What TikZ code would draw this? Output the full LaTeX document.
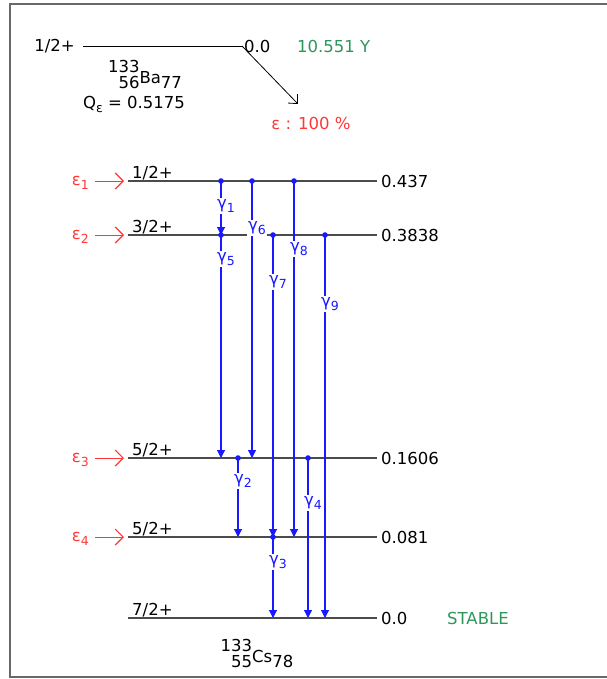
\documentclass[tikz,border=0pt]{standalone}
\usepackage{fontspec}
\setmainfont{DejaVu Sans}
\usetikzlibrary{arrows.meta,positioning}
\definecolor{gblue}{RGB}{25,25,255}
\definecolor{ered}{RGB}{255,55,55}
\definecolor{hgreen}{RGB}{45,150,90}
\definecolor{lvlgrey}{RGB}{75,75,75}
\definecolor{framegrey}{RGB}{105,105,105}
\newcommand{\nuclide}[4]{\begin{tabular}[b]{@{}r@{}}#1\\[-3pt]#2\end{tabular}\raisebox{5pt}{#3}#4}
\newcommand{\lowsub}[1]{\raisebox{-4pt}{\fontsize{12.5}{13}\selectfont#1}}

\begin{document}
\begin{tikzpicture}[
    x=1pt, y=-1pt,
    font=\fontsize{16.5}{19}\selectfont,
    level/.style={draw=lvlgrey, line width=1.6pt},
    gamma/.style={draw=gblue, line width=1.1pt, -{Triangle[length=8pt,width=8pt]}},
    gdot/.style={fill=gblue},
    glabel/.style={text=gblue, fill=white, inner sep=1pt},
    feed/.style={draw=ered, line width=1pt, -{Straight Barb[length=8pt,width=16pt,line width=1.2pt]}},
    flabel/.style={text=ered, anchor=east, inner sep=1pt},
    spin/.style={anchor=south west, inner sep=1pt},
    energy/.style={anchor=west, inner sep=1pt}
]
\useasboundingbox (0,0) rectangle (606,679);
\draw[framegrey, line width=1.8pt] (10,4) rectangle (640,677);

\node[anchor=east, inner sep=1pt] (parspin) at (76,46) {1/2+};
\coordinate (parw) at (83,46);
\coordinate (pare) at (242,46);
\draw[black, line width=0.9pt] (parw) -- (pare);
\node[energy] (parlvl) at (243,46) {0.0};
\node[energy, text=hgreen] (halflife) at (296,46) {10.551 Y};
\node[inner sep=0pt] (ba) at (145,77) {\nuclide{133}{56}{Ba}{77}};
\node[inner sep=1pt] (qec) at (134,104) {Q\lowsub{ε} = 0.5175};
\node[text=ered, inner sep=1pt] (branch) at (311,123) {ε : 100 \%};
\draw[black, line width=0.8pt, -{Straight Barb[length=7pt,width=13pt]}] (pare) -- (298,104);

\coordinate (l1w) at (128,181); \coordinate (l1e) at (377,181);
\coordinate (l2w) at (128,235); \coordinate (l2e) at (377,235);
\coordinate (l3w) at (128,458); \coordinate (l3e) at (377,458);
\coordinate (l4w) at (128,537); \coordinate (l4e) at (377,537);
\coordinate (l5w) at (128,618); \coordinate (l5e) at (377,618);
\draw[level] (l1w) -- (l1e);
\draw[level] (l2w) -- (l2e);
\draw[level] (l3w) -- (l3e);
\draw[level] (l4w) -- (l4e);
\draw[level] (l5w) -- (l5e);

\node[spin] (s1) at (l1w) [xshift=3pt] {1/2+};
\node[spin] (s2) at (l2w) [xshift=3pt] {3/2+};
\node[spin] (s3) at (l3w) [xshift=3pt] {5/2+};
\node[spin] (s4) at (l4w) [xshift=3pt] {5/2+};
\node[spin] (s5) at (l5w) [xshift=3pt] {7/2+};

\node[energy] (e1) at (l1e) [xshift=3pt] {0.437};
\node[energy] (e2) at (l2e) [xshift=3pt] {0.3838};
\node[energy] (e3) at (l3e) [xshift=3pt] {0.1606};
\node[energy] (e4) at (l4e) [xshift=3pt] {0.081};
\node[energy] (e5) at (l5e) [xshift=3pt] {0.0};
\node[energy, text=hgreen] (stable) at (446,618) {STABLE};
\node[inner sep=0pt] (cs) at (257,656) {\nuclide{133}{55}{Cs}{78}};

\coordinate (f1) at (95,181);
\coordinate (f2) at (95,235);
\coordinate (f3) at (95,458);
\coordinate (f4) at (95,537);
\draw[feed] (f1) -- ([xshift=-4pt]l1w);
\draw[feed] (f2) -- ([xshift=-4pt]l2w);
\draw[feed] (f3) -- ([xshift=-4pt]l3w);
\draw[feed] (f4) -- ([xshift=-4pt]l4w);
\node[flabel] (eps1) at (90,183) {ε\lowsub{1}};
\node[flabel] (eps2) at (90,237) {ε\lowsub{2}};
\node[flabel] (eps3) at (90,460) {ε\lowsub{3}};
\node[flabel] (eps4) at (90,539) {ε\lowsub{4}};

\coordinate (g1a) at (221,181); \coordinate (g1b) at (221,235);
\coordinate (g5a) at (221,235); \coordinate (g5b) at (221,458);
\coordinate (g6a) at (252,181); \coordinate (g6b) at (252,458);
\coordinate (g8a) at (294,181); \coordinate (g8b) at (294,537);
\coordinate (g7a) at (273,235); \coordinate (g7b) at (273,537);
\coordinate (g9a) at (325,235); \coordinate (g9b) at (325,618);
\coordinate (g2a) at (238,458); \coordinate (g2b) at (238,537);
\coordinate (g4a) at (308,458); \coordinate (g4b) at (308,618);
\coordinate (g3a) at (273,537); \coordinate (g3b) at (273,618);

\draw[gamma] (g1a) -- (g1b);
\draw[gamma] (g5a) -- (g5b);
\draw[gamma] (g6a) -- (g6b);
\draw[gamma] (g8a) -- (g8b);
\draw[gamma] (g7a) -- (g7b);
\draw[gamma] (g9a) -- (g9b);
\draw[gamma] (g2a) -- (g2b);
\draw[gamma] (g4a) -- (g4b);
\draw[gamma] (g3a) -- (g3b);
\fill[gdot] (g1a) circle (2.8pt);
\fill[gdot] (g5a) circle (2.8pt);
\fill[gdot] (g6a) circle (2.8pt);
\fill[gdot] (g8a) circle (2.8pt);
\fill[gdot] (g7a) circle (2.8pt);
\fill[gdot] (g9a) circle (2.8pt);
\fill[gdot] (g2a) circle (2.8pt);
\fill[gdot] (g4a) circle (2.8pt);
\fill[gdot] (g3a) circle (2.8pt);

\node[glabel] (gl1) at (226,206) {γ\lowsub{1}};
\node[glabel] (gl5) at (226,259) {γ\lowsub{5}};
\node[glabel] (gl6) at (257,228) {γ\lowsub{6}};
\node[glabel] (gl8) at (299,249) {γ\lowsub{8}};
\node[glabel] (gl7) at (278,282) {γ\lowsub{7}};
\node[glabel] (gl9) at (330,304) {γ\lowsub{9}};
\node[glabel] (gl2) at (243,481) {γ\lowsub{2}};
\node[glabel] (gl4) at (313,503) {γ\lowsub{4}};
\node[glabel] (gl3) at (278,562) {γ\lowsub{3}};
\end{tikzpicture}
\end{document}
